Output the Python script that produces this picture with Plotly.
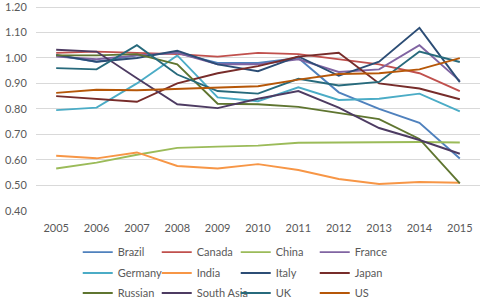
import plotly.graph_objects as go

years = ["2005", "2006", "2007", "2008", "2009", "2010", "2011", "2012", "2013", "2014", "2015"]

brazil = [1.010, 0.985, 1.010, 1.020, 0.980, 0.980, 1.000, 0.865, 0.800, 0.745, 0.605]
canada = [1.020, 1.025, 1.020, 1.015, 1.005, 1.020, 1.015, 0.995, 0.975, 0.940, 0.870]
china = [0.566, 0.589, 0.620, 0.647, 0.652, 0.656, 0.667, 0.668, 0.669, 0.670, 0.668]
france = [1.005, 0.995, 1.010, 1.020, 0.975, 0.975, 0.995, 0.945, 0.955, 1.050, 0.910]
germany = [0.795, 0.805, 0.900, 1.010, 0.845, 0.830, 0.885, 0.835, 0.840, 0.860, 0.790]
india = [0.616, 0.606, 0.629, 0.576, 0.566, 0.583, 0.560, 0.525, 0.505, 0.513, 0.510]
italy = [1.012, 0.985, 1.000, 1.028, 0.975, 0.948, 1.006, 0.930, 0.985, 1.118, 0.905]
japan = [0.850, 0.840, 0.828, 0.900, 0.940, 0.968, 1.005, 1.020, 0.900, 0.880, 0.838]
russian = [1.010, 1.010, 1.015, 0.975, 0.820, 0.818, 0.808, 0.783, 0.760, 0.682, 0.508]
south_asia = [1.032, 1.025, 0.920, 0.818, 0.803, 0.840, 0.870, 0.805, 0.725, 0.678, 0.624]
uk = [0.960, 0.955, 1.050, 0.935, 0.870, 0.860, 0.918, 0.892, 0.906, 1.025, 0.984]
us = [0.863, 0.875, 0.873, 0.879, 0.883, 0.889, 0.915, 0.937, 0.940, 0.955, 0.999]

series_names = ["Brazil", "Canada", "China", "France", "Germany", "India",
                "Italy", "Japan", "Russian", "South Asia", "UK", "US"]
series_values = [brazil, canada, china, france, germany, india,
                 italy, japan, russian, south_asia, uk, us]
colors = ["#4F81BD", "#C0504D", "#9BBB59", "#8064A2", "#4BACC6", "#F79646",
          "#2C4D75", "#772C2A", "#5F7530", "#4D3B62", "#276A7C", "#B65708"]

y_min, y_max, y_step = 0.40, 1.20, 0.10

legend_ids = ["legend", "legend2", "legend3"]

fig = go.Figure()
for i, (name, vals, col) in enumerate(zip(series_names, series_values, colors)):
    fig.add_trace(go.Scatter(x=years, y=vals, mode="lines", name=name,
                             line=dict(color=col, width=1.9),
                             legend=legend_ids[i // 4]))

font_family = "Lato, 'Open Sans', sans-serif"
leg_common = dict(orientation="h", x=0.094, xanchor="left", yanchor="middle",
                  yref="container",
                  entrywidth=34, entrywidthmode="pixels", itemwidth=30,
                  font=dict(family=font_family, size=11, color="#595959"),
                  traceorder="normal", bgcolor="rgba(0,0,0,0)")
fig.update_layout(
    width=484, height=303,
    margin=dict(l=36, r=4, t=3, b=92),
    paper_bgcolor="white", plot_bgcolor="white",
    font=dict(family=font_family, size=11, color="#595959"),
    showlegend=True,
    legend=dict(y=0.168, **leg_common),
    legend2=dict(y=0.099, **leg_common),
    legend3=dict(y=0.033, **leg_common),
)
fig.update_xaxes(type="category", categoryorder="array", categoryarray=years,
                 range=[-0.5, 10.5], showgrid=False, showline=False, zeroline=False,
                 ticks="outside", ticklen=7, tickcolor="rgba(0,0,0,0)", automargin=False,
                 ticklabeloverflow="allow",
                 tickfont=dict(size=11, color="#595959"))
fig.update_yaxes(range=[y_min - 0.0008, y_max + 0.0157], autorange=False,
                 tickmode="linear", tick0=y_min, dtick=y_step, tickformat=".2f",
                 showgrid=True, gridcolor="#D9D9D9", gridwidth=1,
                 showline=False, zeroline=False, automargin=False,
                 ticks="outside", ticklen=6, tickcolor="rgba(0,0,0,0)",
                 ticklabeloverflow="allow",
                 tickfont=dict(size=11, color="#595959"))

fig.write_html("out.html", config={"displayModeBar": False},
               post_script="document.body.style.margin='0';")
